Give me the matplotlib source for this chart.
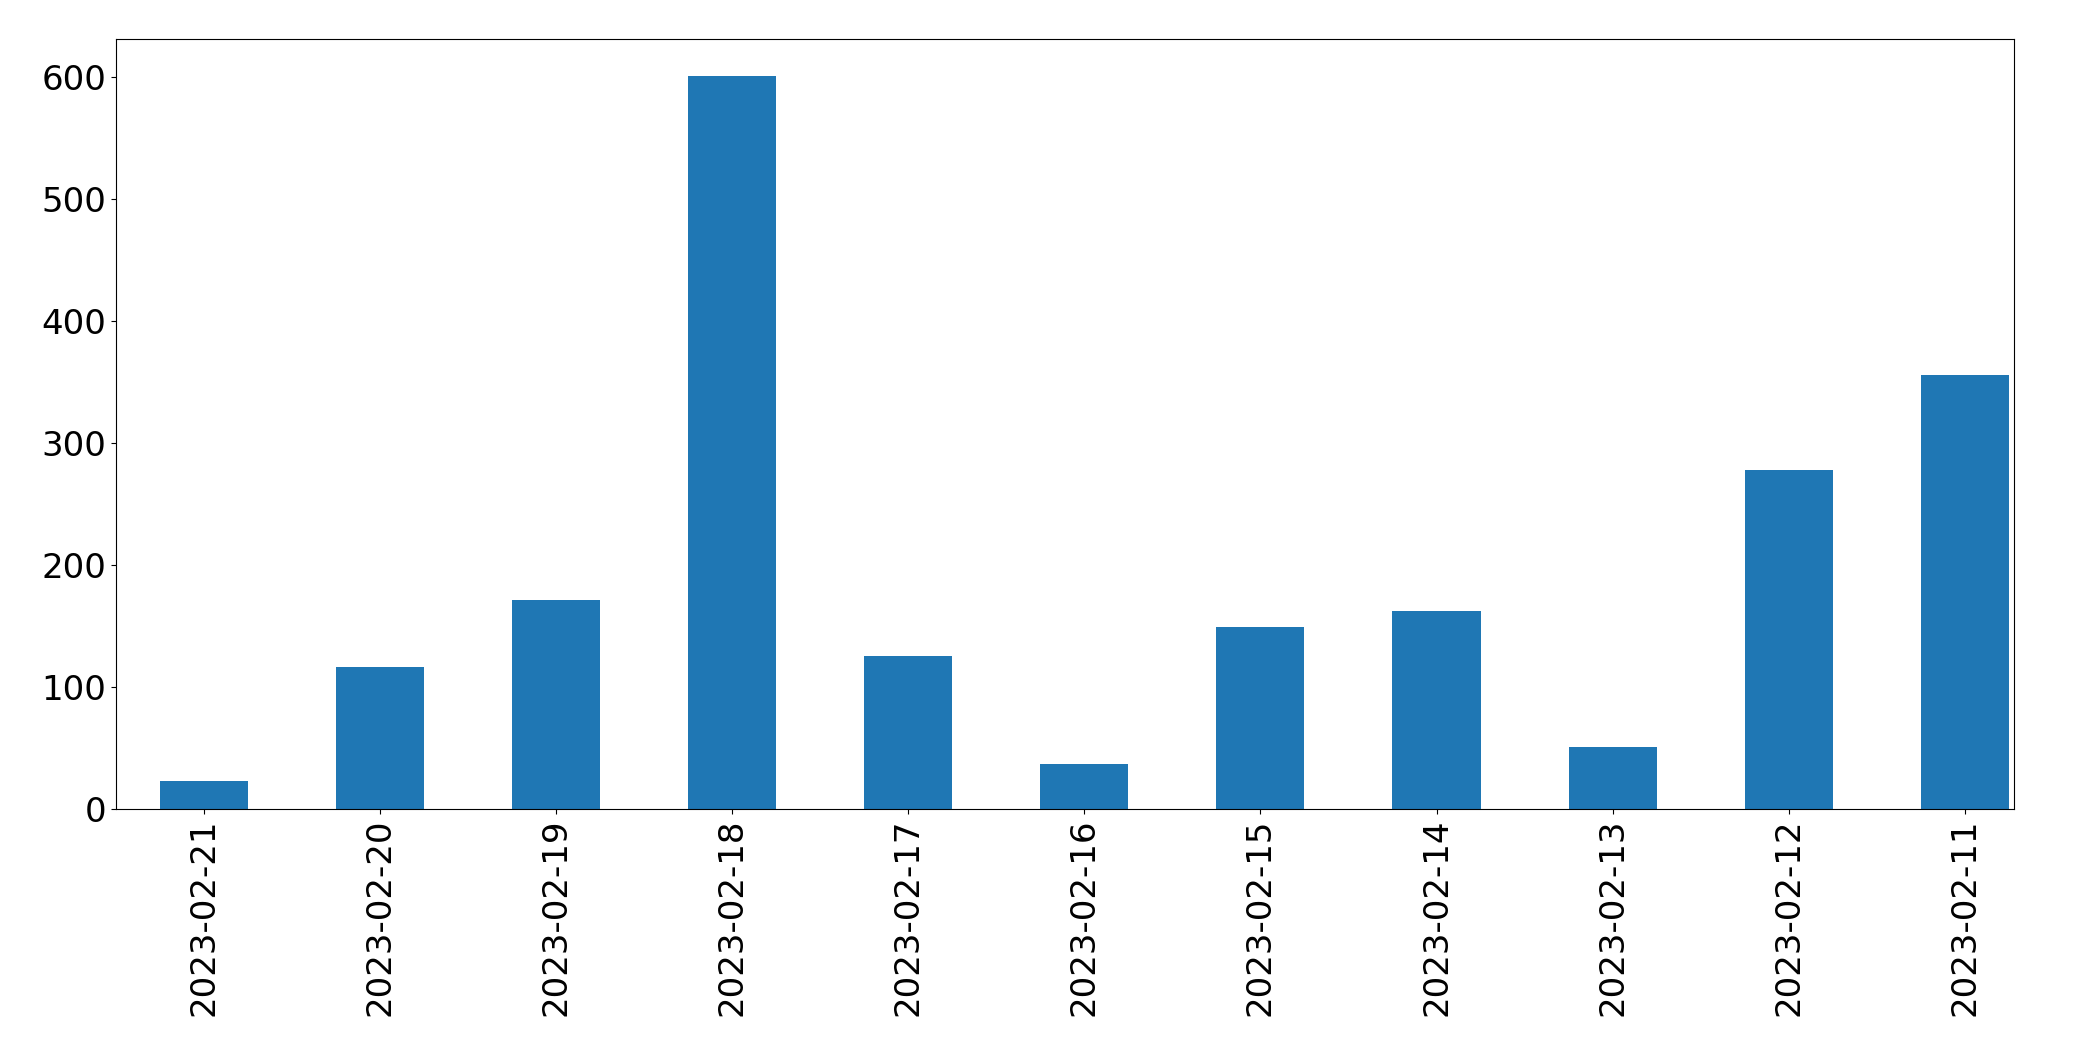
import pandas as pd
import matplotlib
matplotlib.use('Agg')
import matplotlib.pyplot as plt

# daily counts, newest first (as in the reference)
dates = ['2023-02-21', '2023-02-20', '2023-02-19', '2023-02-18', '2023-02-17',
         '2023-02-16', '2023-02-15', '2023-02-14', '2023-02-13', '2023-02-12',
         '2023-02-11']
counts = [23, 116, 171, 601, 125, 37, 149, 162, 51, 278, 356]

s = pd.Series(counts, index=dates)

fig = plt.figure(figsize=(20.93, 10.61), dpi=100)
ax = fig.add_axes([116 / 2093, 1 - 809 / 1061, (2014 - 116) / 2093, (809 - 39) / 1061])
s.plot(kind='bar', ax=ax, color='#1f77b4', width=0.5)
ax.set_xlim(-0.5, len(dates) - 0.72)
ax.tick_params(axis='both', labelsize=24.5)
plt.setp(ax.get_xticklabels(), rotation=90)

fig.savefig('out.png', dpi=100)
